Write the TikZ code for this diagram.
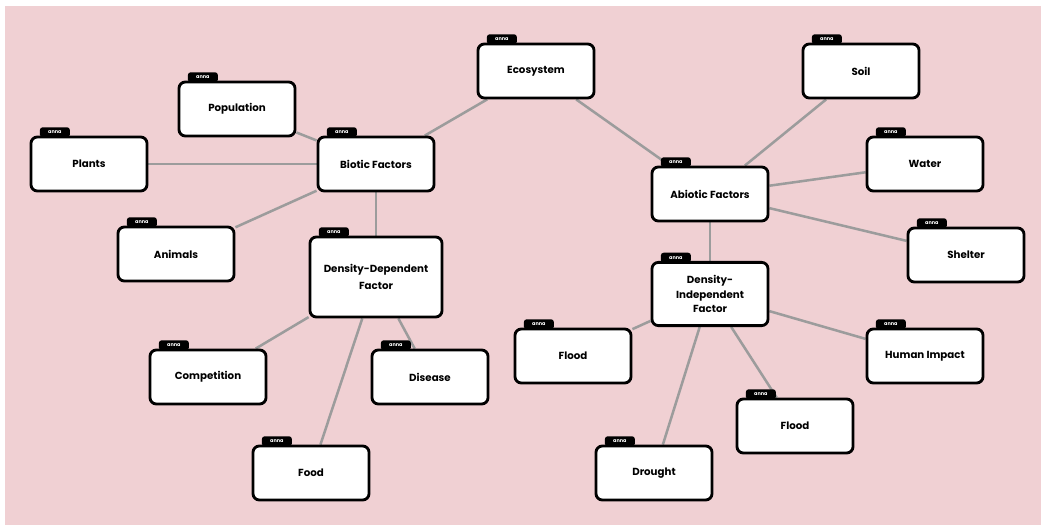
\documentclass[tikz,border=0pt]{standalone}
\usepackage{fontspec}
\setmainfont{Poppins}
\usetikzlibrary{calc,backgrounds}
\definecolor{bgpink}{HTML}{F0D0D3}
\definecolor{linkgrey}{HTML}{9C9C9C}

\begin{document}
\begin{tikzpicture}[x=0.025cm, y=-0.025cm,
        card/.style={draw=black, line width=2pt, fill=white, rounded corners=0.16cm, minimum width=2.9cm, minimum height=1.35cm, align=center, inner sep=2pt, font=\fontsize{7.3}{10.5}\selectfont\bfseries},
        tag/.style={fill=black, rounded corners=0.07cm, minimum width=0.75cm, minimum height=0.25cm, inner sep=0pt, text=white, font=\fontsize{3.5}{3.5}\selectfont\bfseries},
        link/.style={draw=linkgrey, line width=1.8pt}]
        \useasboundingbox (0,0) rectangle (1041,525);

        \node[card] (eco) at (536, 71) {Ecosystem};
        \node[card] (bio) at (376, 164) {Biotic Factors};
        \node[card] (pop) at (237, 109) {Population};
        \node[card] (plants) at (89, 164) {Plants};
        \node[card] (animals) at (176, 254) {Animals};
        \node[card, minimum width=3.3cm, minimum height=2cm, font=\fontsize{7.3}{12.5}\selectfont\bfseries] (ddf) at (376, 277) {Density-Dependent\\Factor}; % dependent
        \node[card] (comp) at (208, 377) {Competition};
        \node[card] (disease) at (430, 377) {Disease};
        \node[card] (food) at (311, 473) {Food};

        \node[card] (abio) at (710, 194) {Abiotic Factors};
        \node[card] (soil) at (861, 71) {Soil};
        \node[card] (water) at (925, 164) {Water};
        \node[card] (shelter) at (966, 255) {Shelter};
        \node[card, minimum height=1.58cm] (dif) at (710, 294) {Density-\\Independent\\Factor}; % independent
        \node[card] (floodl) at (573, 356) {Flood};
        \node[card] (human) at (925, 356) {Human Impact};
        \node[card] (floodr) at (795, 426) {Flood};
        \node[card] (drought) at (654, 473) {Drought};

        % little tabs on every card
        \foreach \n in {eco,bio,pop,plants,animals,ddf,comp,disease,food,abio,soil,water,shelter,dif,floodl,human,floodr,drought}
            \node[tag, anchor=south west] (\n-tag) at ($(\n.north west)+(10,2)$) {anna};

        \begin{scope}[on background layer]
            \fill[bgpink] (5,6) rectangle (1041,525);
            \draw[link] (eco) -- (bio);
            \draw[link] (eco) -- (abio);
            \draw[link] (bio) -- (pop);
            \draw[link] (bio) -- (plants);
            \draw[link] (bio) -- (animals);
            \draw[link] (bio) -- (ddf);
            \draw[link] (ddf) -- (comp);
            \draw[link] (ddf) -- (disease);
            \draw[link] (ddf) -- (food);
            \draw[link] (abio) -- (soil);
            \draw[link] (abio) -- (water);
            \draw[link] (abio) -- (shelter);
            \draw[link] (abio) -- (dif);
            \draw[link] (dif) -- (floodl);
            \draw[link] (dif) -- (human);
            \draw[link] (dif) -- (floodr);
            \draw[link] (dif) -- (drought);
        \end{scope}

    \end{tikzpicture}
\end{document}
